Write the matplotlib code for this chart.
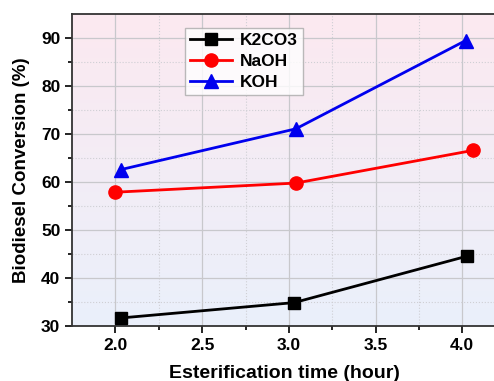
import numpy as np
import matplotlib
matplotlib.use('Agg')
import matplotlib.pyplot as plt
from matplotlib.colors import LinearSegmentedColormap

plt.rcParams['font.family'] = ['Liberation Sans', 'DejaVu Sans']
plt.rcParams['font.weight'] = 'bold'

# data
time_k2co3 = [2.03, 3.03, 4.03]
k2co3 = [31.7, 34.9, 44.6]
time_naoh = [2.0, 3.04, 4.06]
naoh = [57.9, 59.8, 66.6]
time_koh = [2.03, 3.04, 4.02]
koh = [62.6, 71.1, 89.5]
xticks = [2.0, 2.5, 3.0, 3.5, 4.0]
yticks = [30, 40, 50, 60, 70, 80, 90]

fig = plt.figure(figsize=(4.94, 3.81), dpi=100)
ax = fig.add_axes([0.146, 0.144, 0.86, 0.819])
ax.set_xlim(1.75, 4.2)
ax.set_ylim(30, 95)

# pink -> blue background
cmap = LinearSegmentedColormap.from_list('bg', ['#eaf0fb', '#fce9f0'])
grad = np.linspace(0, 1, 256).reshape(-1, 1)
ax.imshow(grad, cmap=cmap, aspect='auto', origin='lower',
          extent=[1.75, 4.2, 30, 95], zorder=0)

ax.set_xticks(xticks)
ax.set_yticks(yticks)
ax.set_xticks([2.25, 2.75, 3.25, 3.75], minor=True)
ax.set_yticks([35, 45, 55, 65, 75, 85], minor=True)
ax.grid(which='major', color='#c8c8cc', linewidth=0.9, zorder=1)
ax.grid(which='minor', color='#cfcfd4', linewidth=0.8, linestyle=':', zorder=1)

ax.plot(time_k2co3, k2co3, color='black', marker='s', markersize=9, lw=2, label='K2CO3', zorder=3)
ax.plot(time_naoh, naoh, color='#ff0000', marker='o', markersize=9.5, lw=2, label='NaOH', zorder=3)
ax.plot(time_koh, koh, color='#0000ee', marker='^', markersize=10, lw=2, label='KOH', zorder=3)

ax.spines['right'].set_visible(False)
for s in ['left', 'bottom', 'top']:
    ax.spines[s].set_color('#333333')
    ax.spines[s].set_linewidth(1.3)
ax.tick_params(which='both', direction='out', labelsize=12.5, width=1.2)
ax.tick_params(which='major', length=5)
ax.tick_params(which='minor', length=3)
for lab in ax.get_xticklabels() + ax.get_yticklabels():
    lab.set_fontweight('bold')

ax.set_xlabel('Esterification time (hour)', fontsize=14, fontweight='bold', labelpad=9)
ax.set_ylabel('Biodiesel Conversion (%)', fontsize=13.5, fontweight='bold', labelpad=8)

leg = ax.legend(loc='upper left', bbox_to_anchor=(0.265, 0.955), fontsize=12.5,
                frameon=True, fancybox=False, edgecolor='#aaaaaa',
                handlelength=2.4, handletextpad=0.5, borderpad=0.3,
                labelspacing=0.33, borderaxespad=0.0)
for t in leg.get_texts():
    t.set_fontweight('bold')

fig.savefig('out.png', dpi=100)
